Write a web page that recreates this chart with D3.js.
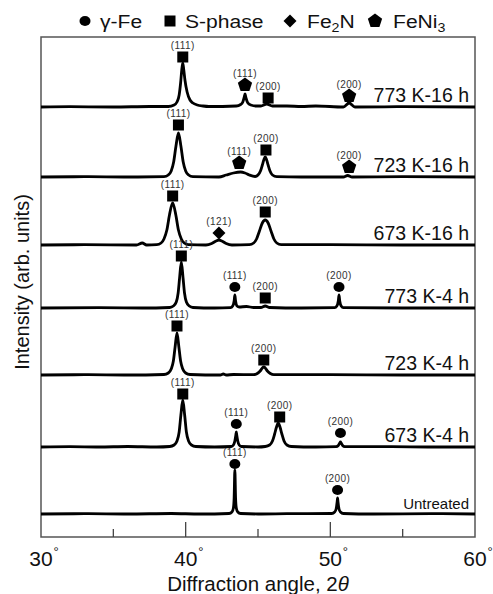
<!DOCTYPE html>
<html>
<head>
<meta charset="utf-8">
<script src="https://cdn.jsdelivr.net/npm/d3@7"></script>
<style>
  body { margin: 0; background: #fff; }
  svg { font-family: "Liberation Sans", Arial, sans-serif; }
</style>
</head>
<body>
<svg id="chart" width="493" height="594"></svg>
<script>
// sample names, bottom to top
const sampleNames = ["Untreated", "673 K-4 h", "723 K-4 h", "773 K-4 h", "673 K-16 h", "723 K-16 h", "773 K-16 h"]
// vertical offset of each pattern (arb. units)
const sampleOffsets = [23, 90, 162, 229, 292, 360, 430]

// [2theta, intensity above baseline]
const untreated = [[30,0],[33,0.3],[36,0],[39,0.5],[41,0],[43.0,0.5],[43.2,2],[43.3,6],[43.35,16],[43.4,44],[43.45,16],[43.5,6],[43.6,2],[43.8,0.5],[45,0],[47,0.3],[50.1,0.5],[50.3,2],[50.4,5],[50.47,12],[50.5,16],[50.53,12],[50.6,5],[50.7,2],[50.9,0.5],[53,0],[57,0.3],[60,0]]
const k673h4 = [[30,0],[32,0.3],[34,0],[36,0.5],[38,0],[38.9,0.5],[39.2,2],[39.4,6],[39.55,15],[39.67,32],[39.8,47],[39.93,32],[40.05,15],[40.2,6],[40.4,2],[40.7,0.5],[42,0],[43.15,0.5],[43.3,2],[43.4,6],[43.47,12],[43.5,15],[43.53,12],[43.6,6],[43.7,2],[43.85,0.5],[45,0],[45.5,0.5],[45.8,2],[46.0,6],[46.15,13],[46.28,20],[46.4,24],[46.52,20],[46.65,13],[46.8,6],[47.0,2],[47.3,0.5],[49,0],[50.4,0.3],[50.55,1.5],[50.65,4],[50.7,5],[50.75,4],[50.85,1.5],[51.0,0.3],[54,0.3],[57,0],[60,0]]
const k723h4 = [[30,0],[33,0.3],[36,0],[38.5,0.5],[38.8,2],[39.0,6],[39.15,14],[39.27,28],[39.4,42],[39.53,28],[39.65,14],[39.8,6],[40.0,2],[40.3,0.5],[42.4,0],[42.6,1],[42.8,0],[43.3,0.5],[44.7,0.3],[44.95,1.5],[45.15,4],[45.3,7],[45.4,8],[45.5,7],[45.65,4],[45.85,1.5],[46.1,0.3],[50,0.3],[55,0],[60,0]]
const k773h4 = [[30,0],[34,0.3],[37,0],[38.9,0.5],[39.15,2],[39.35,6],[39.48,15],[39.58,30],[39.7,46],[39.82,30],[39.92,15],[40.05,6],[40.25,2],[40.5,0.5],[42,0],[43.1,0.3],[43.25,2],[43.35,7],[43.4,13],[43.45,7],[43.55,2],[43.7,1],[44.2,1.5],[44.7,0.5],[45.2,0.5],[45.5,2],[45.8,0.5],[48,0],[50.3,0.3],[50.45,2],[50.55,7],[50.6,13],[50.65,7],[50.75,2],[50.9,0.3],[55,0],[60,0]]
const k673h16 = [[30,0],[33,0.3],[36.6,0],[37.0,2],[37.3,0],[38.0,0.3],[38.3,2],[38.5,6],[38.7,15],[38.88,30],[39.1,42],[39.32,30],[39.5,15],[39.7,6],[39.9,2],[40.2,0.3],[41.4,0],[41.8,1.5],[42.1,4],[42.3,5],[42.5,4],[42.8,1.5],[43.2,0],[44.4,0.3],[44.7,2],[44.9,6],[45.1,14],[45.3,22],[45.5,25],[45.7,22],[45.9,14],[46.1,6],[46.3,2],[46.6,0.3],[50,0.3],[55,0],[60,0]]
const k723h16 = [[30,0],[33,0.3],[36,0],[38.5,0.3],[38.8,2],[39.0,6],[39.17,15],[39.33,31],[39.5,44],[39.67,31],[39.83,15],[40.0,6],[40.2,2],[40.5,0.3],[42.3,0],[42.8,2],[43.3,4],[43.8,5],[44.1,4],[44.4,2],[44.8,0.5],[45.0,2],[45.17,6],[45.3,12],[45.4,17],[45.5,20],[45.6,17],[45.7,12],[45.83,6],[46.0,2],[46.3,0.3],[48,0],[50.9,0],[51.2,1.5],[51.5,0],[55,0.3],[60,0]]
const k773h16 = [[30,0],[32,0.3],[35,0],[37.5,0.5],[38.8,0.5],[39.2,2],[39.4,5],[39.55,12],[39.65,24],[39.73,37],[39.8,44],[39.87,37],[39.95,27],[40.1,15],[40.3,7],[40.5,4],[40.8,2],[41.2,1],[41.6,0.5],[43.5,1],[43.8,2.5],[43.95,5],[44.05,10],[44.1,13],[44.17,9],[44.3,4],[44.5,2],[44.9,1],[45.2,1],[45.6,3],[46.0,1],[47,1],[48,0.5],[49,1],[50.9,0],[51.3,4],[51.7,0],[55,0.3],[60,0]]
const patterns = [untreated, k673h4, k723h4, k773h4, k673h16, k723h16, k773h16]

// peak markers: [sample index, 2theta, marker level above baseline, phase, hkl]
const peakMarks = [
  [0, 43.4, 50, "g", "(111)"], [0, 50.5, 24, "g", "(200)"],
  [1, 39.8, 53, "s", "(111)"], [1, 43.5, 23, "g", "(111)"], [1, 46.5, 30, "s", "(200)"], [1, 50.7, 14, "g", "(200)"],
  [2, 39.4, 49, "s", "(111)"], [2, 45.4, 15, "s", "(200)"],
  [3, 39.7, 52, "s", "(111)"], [3, 43.4, 21, "g", "(111)"], [3, 45.5, 10, "s", "(200)"], [3, 50.6, 21, "g", "(200)"],
  [4, 39.1, 49, "s", "(111)"], [4, 42.3, 12, "d", "(121)"], [4, 45.5, 33, "s", "(200)"],
  [5, 39.5, 52, "s", "(111)"], [5, 43.7, 14, "p", "(111)"], [5, 45.55, 27, "s", "(200)"], [5, 51.3, 10, "p", "(200)"],
  [6, 39.8, 50, "s", "(111)"], [6, 44.1, 22, "p", "(111)"], [6, 45.7, 9, "s", "(200)"], [6, 51.3, 11, "p", "(200)"]
]

const legendPhases = ["g", "s", "d", "p"]
const xTicks = [30, 40, 50, 60]
const xMinorTicks = [35, 45, 55]

const svg = d3.select("#chart")
const plotLeft = 41, plotRight = 475, plotTop = 37, plotBottom = 537

const x = d3.scaleLinear().domain([30, 60]).range([plotLeft, plotRight])
const y = d3.scaleLinear().domain([0, 500]).range([plotBottom, plotTop])

function pentagon(r) {
  const pts = d3.range(5).map(i => {
    const a = -Math.PI / 2 + i * 2 * Math.PI / 5
    return [r * Math.cos(a), r * Math.sin(a)]
  })
  return "M" + pts.map(p => p.join(",")).join("L") + "Z"
}

function drawSymbol(g, phase) {
  if (phase === "g") g.append("ellipse").attr("rx", 5.5).attr("ry", 5).attr("fill", "#000")
  else if (phase === "s") g.append("rect").attr("x", -5.5).attr("y", -5.5).attr("width", 11).attr("height", 11).attr("fill", "#000")
  else if (phase === "d") g.append("path").attr("d", "M0,-6.5L6.5,0L0,6.5L-6.5,0Z").attr("fill", "#000")
  else g.append("path").attr("d", pentagon(7.5)).attr("fill", "#000")
}

// frame
svg.append("rect")
  .attr("x", plotLeft).attr("y", plotTop)
  .attr("width", plotRight - plotLeft).attr("height", plotBottom - plotTop)
  .attr("fill", "none").attr("stroke", "#555").attr("stroke-width", 1.5)

// bottom ticks pointing up
svg.append("g").selectAll("line").data(xTicks.slice(1, -1)).join("line")
  .attr("x1", d => x(d)).attr("x2", d => x(d))
  .attr("y1", plotBottom).attr("y2", plotBottom - 15)
  .attr("stroke", "#444").attr("stroke-width", 1.3)
svg.append("g").selectAll("line").data(xMinorTicks).join("line")
  .attr("x1", d => x(d)).attr("x2", d => x(d))
  .attr("y1", plotBottom).attr("y2", plotBottom - 8)
  .attr("stroke", "#444").attr("stroke-width", 1.3)

const tickLabels = svg.append("g").selectAll("g").data(xTicks).join("g")
  .attr("transform", d => `translate(${x(d)},566)`)
tickLabels.append("text")
  .attr("text-anchor", "middle").attr("font-size", 21).attr("fill", "#111")
  .text(d => d)
tickLabels.append("text")
  .attr("x", 12.5).attr("y", -10).attr("font-size", 13).attr("fill", "#111")
  .text("°")

// patterns
const line = d3.line()
  .x(d => x(d[0]))
  .curve(d3.curveMonotoneX)

patterns.forEach((pts, i) => {
  svg.append("path")
    .attr("d", line.y(d => y(sampleOffsets[i] + d[1]))(pts))
    .attr("fill", "none")
    .attr("stroke", "#000")
    .attr("stroke-width", 2.8)
    .attr("stroke-linejoin", "round")
})

// sample labels
svg.append("g").selectAll("text").data(sampleNames).join("text")
  .attr("x", 469)
  .attr("y", (d, i) => y(sampleOffsets[i]) - 5)
  .attr("text-anchor", "end")
  .attr("font-size", (d, i) => i === 0 ? 15 : 19.5)
  .attr("fill", "#111")
  .text(d => d)

// peak markers + hkl
const marks = svg.append("g").selectAll("g").data(peakMarks).join("g")
  .attr("transform", d => `translate(${x(d[1])},${y(sampleOffsets[d[0]] + d[2])})`)
marks.each(function(d) { drawSymbol(d3.select(this), d[3]) })
marks.append("text")
  .attr("y", -8.5)
  .attr("text-anchor", "middle")
  .attr("font-size", 10)
  .attr("letter-spacing", 0.4)
  .attr("fill", "#333")
  .text(d => d[4])

// legend
const legendX = [85, 170, 290, 375]
const legendGap = [15, 15, 17, 18]
const legend = svg.append("g").selectAll("g").data(legendPhases).join("g")
  .attr("transform", (d, i) => `translate(${legendX[i]},21)`)
legend.each(function(d) { drawSymbol(d3.select(this), d) })
const legendText = legend.append("text")
  .attr("transform", (d, i) => `translate(${legendGap[i]},6.5) scale(1.14,1)`)
  .attr("font-size", 18.5)
  .attr("fill", "#111")
legendText.filter(d => d === "g").text("γ-Fe")
legendText.filter(d => d === "s").text("S-phase")
legendText.filter(d => d === "d").each(function() {
  const t = d3.select(this)
  t.append("tspan").text("Fe")
  t.append("tspan").attr("dy", 4).attr("font-size", 12.5).text("2")
  t.append("tspan").attr("dy", -4).text("N")
})
legendText.filter(d => d === "p").each(function() {
  const t = d3.select(this)
  t.append("tspan").text("FeNi")
  t.append("tspan").attr("dy", 4).attr("font-size", 12.5).text("3")
})

// axis titles
svg.append("text")
  .attr("x", 258).attr("y", 591)
  .attr("text-anchor", "middle").attr("font-size", 20.5).attr("fill", "#111")
  .call(t => {
    t.append("tspan").text("Diffraction angle, 2")
    t.append("tspan").attr("font-style", "italic").text("θ")
  })

svg.append("text")
  .attr("transform", "translate(29,282) rotate(-90)")
  .attr("text-anchor", "middle").attr("font-size", 20).attr("fill", "#111")
  .text("Intensity (arb. units)")
</script>
</body>
</html>
